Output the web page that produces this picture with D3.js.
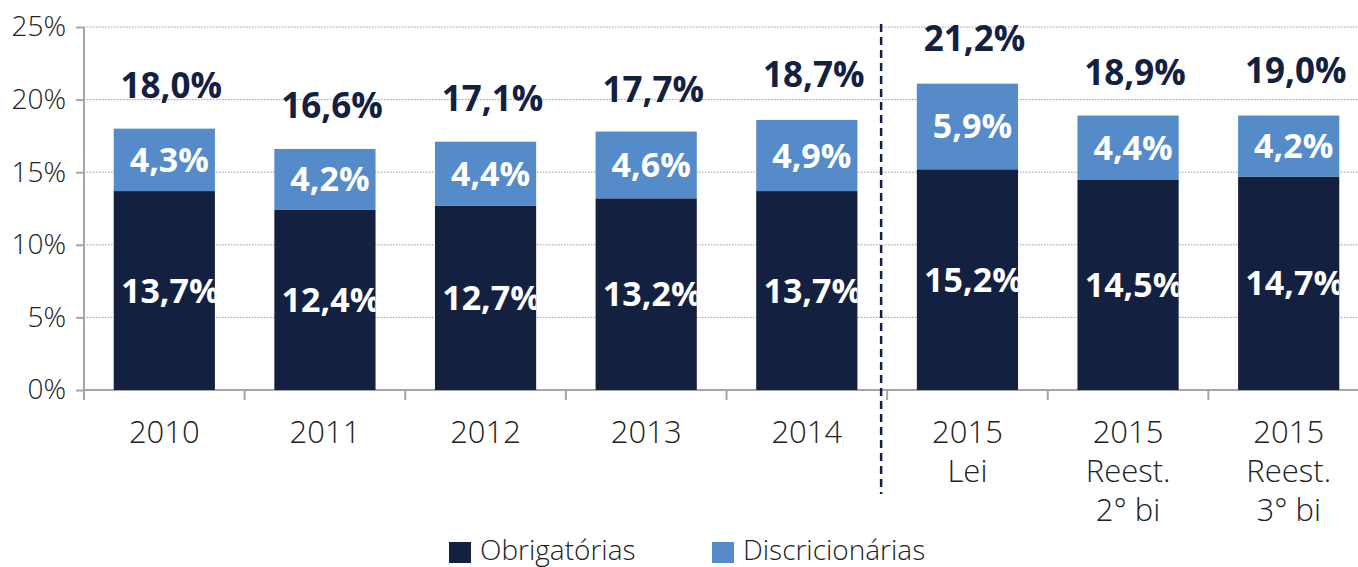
<!DOCTYPE html>
<html><head><meta charset="utf-8">
<script src="https://cdn.jsdelivr.net/npm/d3@7/dist/d3.min.js"></script>
<style>html,body{margin:0;padding:0;background:#fff;overflow:hidden}svg{display:block}</style>
</head><body><svg id="c" width="1358" height="567"></svg>
<script>
const categories = ["2010","2011","2012","2013","2014","2015\nLei","2015\nReest.\n2° bi","2015\nReest.\n3° bi"];
const obrigatorias = [13.7,12.4,12.7,13.2,13.7,15.2,14.5,14.7];
const discricionarias = [4.3,4.2,4.4,4.6,4.9,5.9,4.4,4.2];
const totals = [18.0,16.6,17.1,17.7,18.7,21.2,18.9,19.0];
const yTicks = [0,5,10,15,20,25];
const seriesNames = ["Obrigatórias","Discricionárias"];

const dark = "#13203f", light = "#558bc9";
const svg = d3.select("#c");
const font = "'Open Sans', 'Noto Sans', sans-serif";
const fmt = v => v.toFixed(1).replace(".", ",") + "%";

const x = d3.scaleBand().domain(categories).range([84, 1369]).paddingInner(0.37).paddingOuter(0.185);
const y = d3.scaleLinear().domain([0, 25]).range([390, 27]);
const step = x.step(), bw = x.bandwidth(), gap = (step - bw) / 2;

// gridlines
svg.append("g").selectAll("line").data(yTicks.filter(d => d > 0)).join("line")
  .attr("x1", 84).attr("x2", 1358).attr("y1", d => y(d)).attr("y2", d => y(d))
  .attr("stroke", "#9a9a9a").attr("stroke-width", 1).attr("stroke-dasharray", "1.5,1.5");

// y axis
const yAxis = svg.append("g").attr("transform", "translate(84,0)")
  .call(d3.axisLeft(y).tickValues(yTicks).tickSize(8).tickPadding(10).tickFormat(d => d + "%"));
yAxis.select(".domain").attr("stroke", "#a6a6a6").attr("stroke-width", 2).attr("d", "M0,27V400");
yAxis.selectAll(".tick line").attr("stroke", "#a6a6a6").attr("stroke-width", 2);
yAxis.selectAll(".tick text").attr("font-family", font).attr("font-size", 28).attr("font-weight", 300).attr("fill", "#222");

// x axis line and boundary ticks
svg.append("line").attr("x1", 84).attr("x2", 1358).attr("y1", y(0)).attr("y2", y(0))
  .attr("stroke", "#a6a6a6").attr("stroke-width", 2);
svg.append("g").selectAll("line").data(categories.slice(1)).join("line")
  .attr("x1", d => x(d) - gap).attr("x2", d => x(d) - gap)
  .attr("y1", y(0)).attr("y2", y(0) + 10).attr("stroke", "#a6a6a6").attr("stroke-width", 2);

// category labels
const cl = svg.append("g").selectAll("text").data(categories).join("text")
  .attr("x", d => x(d) + bw / 2).attr("y", 443)
  .attr("text-anchor", "middle").attr("font-family", font).attr("font-size", 31).attr("font-weight", 300).attr("fill", "#222");
cl.each(function(d) {
  const lines = d.split("\n");
  d3.select(this).selectAll("tspan").data(lines).join("tspan")
    .attr("x", x(d) + bw / 2).attr("dy", (l, i) => i === 0 ? 0 : 39).text(l => l);
});

// clip paths per bar
const defs = svg.append("defs");
categories.forEach((c, i) => {
  defs.append("clipPath").attr("id", "clip" + i).append("rect")
    .attr("x", x(c)).attr("y", 0).attr("width", bw).attr("height", 567);
});

// bars
const g = svg.append("g");
g.selectAll("rect.o").data(categories).join("rect").attr("class", "o")
  .attr("x", d => x(d)).attr("width", bw)
  .attr("y", (d, i) => y(obrigatorias[i])).attr("height", (d, i) => y(0) - y(obrigatorias[i]))
  .attr("fill", dark);
g.selectAll("rect.d").data(categories).join("rect").attr("class", "d")
  .attr("x", d => x(d)).attr("width", bw)
  .attr("y", (d, i) => y(obrigatorias[i] + discricionarias[i]))
  .attr("height", (d, i) => y(obrigatorias[i]) - y(obrigatorias[i] + discricionarias[i]))
  .attr("fill", light);

// dashed separator
const sepX = x(categories[5]) - gap - 6;
svg.append("line").attr("x1", sepX).attr("x2", sepX).attr("y1", 24).attr("y2", 494)
  .attr("stroke", dark).attr("stroke-width", 2.5).attr("stroke-dasharray", "8,5");

// segment labels
const lab = svg.append("g").attr("font-family", font).attr("font-weight", 700).attr("font-size", 34)
  .attr("text-anchor", "middle").attr("fill", "#fff");
categories.forEach((c, i) => {
  const o = obrigatorias[i], dd = discricionarias[i];
  lab.append("text").attr("clip-path", "url(#clip" + i + ")")
    .attr("x", x(c) + bw / 2 + 6).attr("y", (y(0) + y(o)) / 2 + 12).text(fmt(o));
  lab.append("text").attr("clip-path", "url(#clip" + i + ")")
    .attr("x", x(c) + bw / 2 + 5).attr("y", (y(o) + y(o + dd)) / 2 + 12).text(fmt(dd));
});

// totals
svg.append("g").selectAll("text").data(categories).join("text")
  .attr("x", d => x(d) + bw / 2 + 7).attr("y", (d, i) => y(totals[i]) - 31)
  .attr("text-anchor", "middle").attr("font-family", font).attr("font-weight", 700)
  .attr("font-size", 35).attr("fill", dark).text((d, i) => fmt(totals[i]));

// legend
const legendX = [449, 712];
const lg = svg.append("g");
seriesNames.forEach((n, i) => {
  lg.append("rect").attr("x", legendX[i]).attr("y", 542).attr("width", 22).attr("height", 21)
    .attr("fill", i === 0 ? dark : light);
  lg.append("text").attr("x", legendX[i] + 31).attr("y", 560).attr("font-family", font)
    .attr("font-size", 28).attr("font-weight", 300).attr("fill", "#222").text(n);
});
</script></body></html>
